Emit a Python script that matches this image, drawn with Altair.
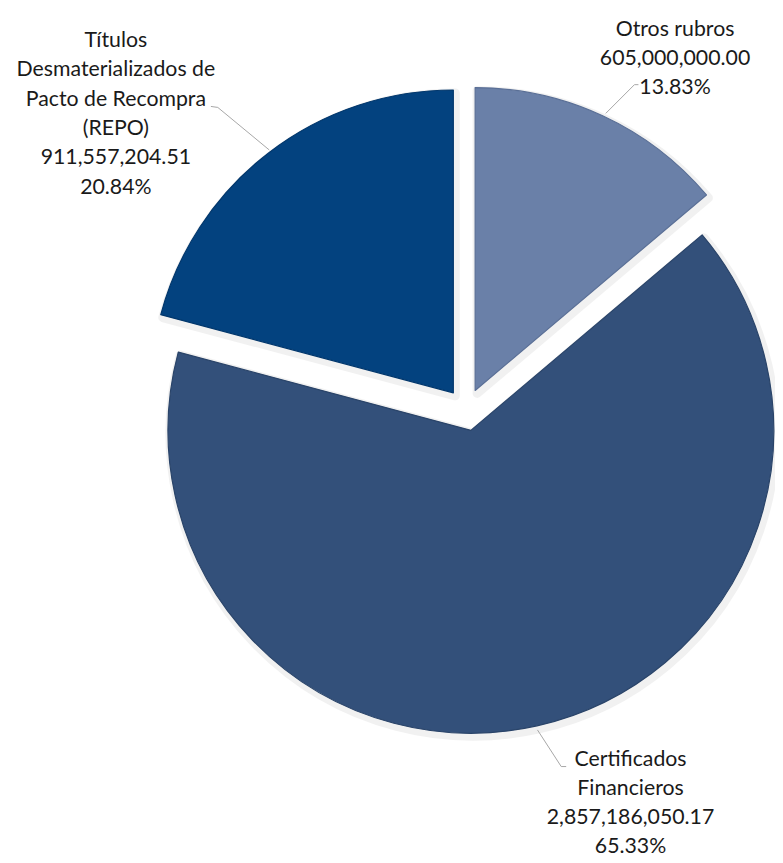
import math
import altair as alt
import pandas as pd

# ---- data ----
categories = ["Otros rubros", "Certificados Financieros",
              "Títulos Desmaterializados de Pacto de Recompra (REPO)"]
values = [605000000.00, 2857186050.17, 911557204.51]
order = [1, 2, 3]
label_texts = [
    "Otros rubros\n605,000,000.00\n13.83%",
    "Certificados\nFinancieros\n2,857,186,050.17\n65.33%",
    "Títulos\nDesmaterializados de\nPacto de Recompra\n(REPO)\n911,557,204.51\n20.84%",
]
colors = ["#6a80a8", "#33507a", "#03427f"]
edge_colors = ["#5a6f96", "#2a4469", "#02376c"]

# ---- layout (pixels, view coordinates) ----
CX, CY = 463, 401.4     # pie centre
R = 306                  # radius
D = 21.4                 # explode distance
W, H = 775, 855

df = pd.DataFrame({"cat": categories, "value": values, "ord": order})

base = alt.Chart(df).transform_joinaggregate(
    total="sum(value)"
).transform_window(
    cum="sum(value)", sort=[alt.SortField("ord")], frame=[None, 0]
).transform_calculate(
    a1="datum.cum / datum.total * 2 * PI",
    a0="(datum.cum - datum.value) / datum.total * 2 * PI",
).transform_calculate(
    mid="(datum.a0 + datum.a1) / 2"
).transform_calculate(
    px=f"{CX} + sin(datum.mid) * {D}",
    py=f"{CY} - cos(datum.mid) * {D}",
)

enc = dict(
    x=alt.X("px:Q", scale=None, axis=None),
    y=alt.Y("py:Q", scale=None, axis=None),
    theta=alt.Theta("a0:Q", scale=None),
    theta2="a1:Q",
)

shadow = base.mark_arc(
    radius=R, fill="#cfcfcf", opacity=0.35, stroke="#d8d8d8",
    strokeWidth=9, strokeJoin="round", xOffset=2, yOffset=3
).encode(**enc)

slices = base.mark_arc(radius=R, strokeWidth=1.2, strokeJoin="round").encode(
    color=alt.Color("cat:N", scale=alt.Scale(domain=categories, range=colors), legend=None),
    stroke=alt.Stroke("cat:N", scale=alt.Scale(domain=categories, range=edge_colors), legend=None),
    **enc,
)

# labels (x = centre of block, y = middle of first line)
label_pos = [(674, 17.5), (629, 755), (109, 29)]
texts = []
for t, (lx, ly) in zip(label_texts, label_pos):
    texts.append(
        alt.Chart(pd.DataFrame({"t": [t]})).mark_text(
            font="Lato", fontSize=21.5, lineHeight=29.6, color="#1a1a1a",
            align="center", baseline="middle", lineBreak="\n"
        ).encode(text="t:N", x=alt.value(lx), y=alt.value(ly))
    )

# leader lines
leaders = [
    ((637, 73), (633, 73)), ((633, 73), (604, 102)),
    ((205, 95), (212, 96)), ((212, 96), (264, 139)),
    ((535, 725), (559, 762)), ((559, 762), (564, 762)),
]
rules = []
for (x1, y1), (x2, y2) in leaders:
    rules.append(
        alt.Chart(pd.DataFrame({"k": [0]})).mark_rule(color="#a6a6a6", strokeWidth=1).encode(
            x=alt.value(x1), y=alt.value(y1), x2=alt.value(x2), y2=alt.value(y2)
        )
    )

chart = alt.layer(shadow, slices, *rules, *texts).properties(
    width=W, height=H, padding=0, autosize=alt.AutoSizeParams(type="none")
).configure_view(stroke=None)

chart.save("out.html", embed_options={"renderer": "svg", "actions": False})
